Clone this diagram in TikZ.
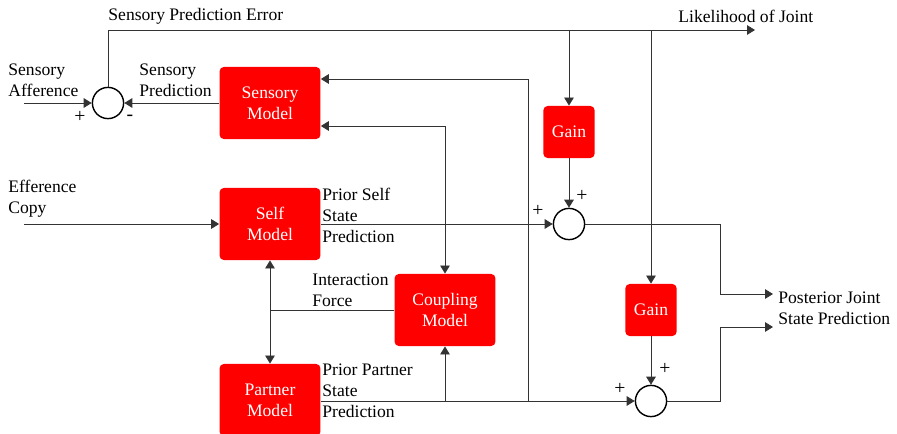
\documentclass[tikz,border=0pt]{standalone}
\usepackage{fontspec}
\setmainfont{Liberation Serif}
\usetikzlibrary{%
  arrows.meta,%
  calc,%
  positioning%
}

\begin{document}
\begin{tikzpicture}[
  x=0.025cm, y=-0.025cm,
  font=\fontsize{12.5}{15}\selectfont,
  >={Triangle[length=2mm,width=2.4mm]},
  line width=0.6pt, draw=black!80,
  model/.style={rectangle, minimum width=2.52cm, minimum height=1.8cm, draw=none, fill=red, text=white, rounded corners=3pt, align=center},
  gainbox/.style={rectangle, minimum width=1.28cm, minimum height=1.3cm, draw=none, fill=red, text=white, rounded corners=3pt},
  sumnode/.style={circle, minimum size=0.78cm, inner sep=0pt, draw=black, line width=1pt},
  lbl/.style={anchor=west, align=left, inner sep=0pt},
  sgn/.style={inner sep=0pt, font=\fontsize{14}{14}\selectfont}
]
\useasboundingbox (0,0) rectangle (897,434);

% blocks
\node[model] (sens) at (270,103) {Sensory\\Model};
\node[model] (self) at (270,224) {Self\\Model};
\node[model] (partner) at (270,400) {Partner\\Model};
\node[model] (coup) at (445,310) {Coupling\\Model};
\node[gainbox] (gain1) at (569,132) {Gain};
\node[gainbox] (gain2) at (651,310) {Gain};

% summing points
\node[sumnode] (sum1) at (108,103) {};
\node[sumnode] (sum2) at (569,224) {};
\node[sumnode] (sum3) at (651,401) {};

% free ends
\coordinate (aff) at (24,103);
\coordinate (effc) at (24,224);
\coordinate (likeend) at (755,30);
\coordinate (kink) at (720,0);
\coordinate (post1) at (773,294);
\coordinate (post2) at (773,327);
\coordinate (ptap) at (528,401);

% labels
\node[lbl] (errlbl) at (108,16) {Sensory Prediction Error};
\node[lbl] (likelbl) at (678,16) {Likelihood of Joint};
\node[lbl] (afflbl) at (8,80) {Sensory\\Afference};
\node[lbl] (predlbl) at (139,80) {Sensory\\Prediction};
\node[lbl] (efflbl) at (8,199) {Efference\\Copy};
\node[lbl] (selflbl) at (322,215) {Prior Self\\State\\Prediction};
\node[lbl] (forcelbl) at (312,290) {Interaction\\Force};
\node[lbl] (partlbl) at (322,391) {Prior Partner\\State\\Prediction};
\node[lbl] (postlbl) at (778,308) {Posterior Joint\\State Prediction};

% signs
\node[sgn] (s1a) at (80,117) {+};
\node[sgn] (s1b) at (130,118) {-};
\node[sgn] (s2a) at (538,211) {+};
\node[sgn] (s2b) at (582,196) {+};
\node[sgn] (s3a) at (620,389) {+};
\node[sgn] (s3b) at (665,369) {+};

% connectors
\draw[->] (aff) -- (sum1.west);
\draw[->] (sens.west) -- (sum1.east);
\draw[->] (sum1.north) |- (likeend);
\draw[->] (gain1 |- likeend) -- (gain1.north);
\draw[->] (gain2 |- likeend) -- (gain2.north);
\draw[->] (gain1.south) -- (sum2.north);
\draw[->] (gain2.south) -- (sum3.north);

\draw[->] (effc) -- (self.west);
\draw[->] (self.east) -- (sum2.west);
\draw[->] (partner.east |- sum3) -- (sum3.west);
\draw[<->] (self.south) -- (partner.north);
\draw (coup.west) -- (self.south |- coup.west);

\draw[->] (coup.north |- self.east) |- ($(sens.east)+(0,23)$);
\draw[->] (coup.north |- self.east) -- (coup.north);
\draw[->] (coup.south |- sum3) -- (coup.south);
\draw[->] (ptap) |- ($(sens.east)+(0,-24)$);

\draw[->] (sum2.east) -- (sum2.east -| kink) |- (post1);
\draw[->] (sum3.east) -- (sum3.east -| kink) |- (post2);

\end{tikzpicture}
\end{document}
